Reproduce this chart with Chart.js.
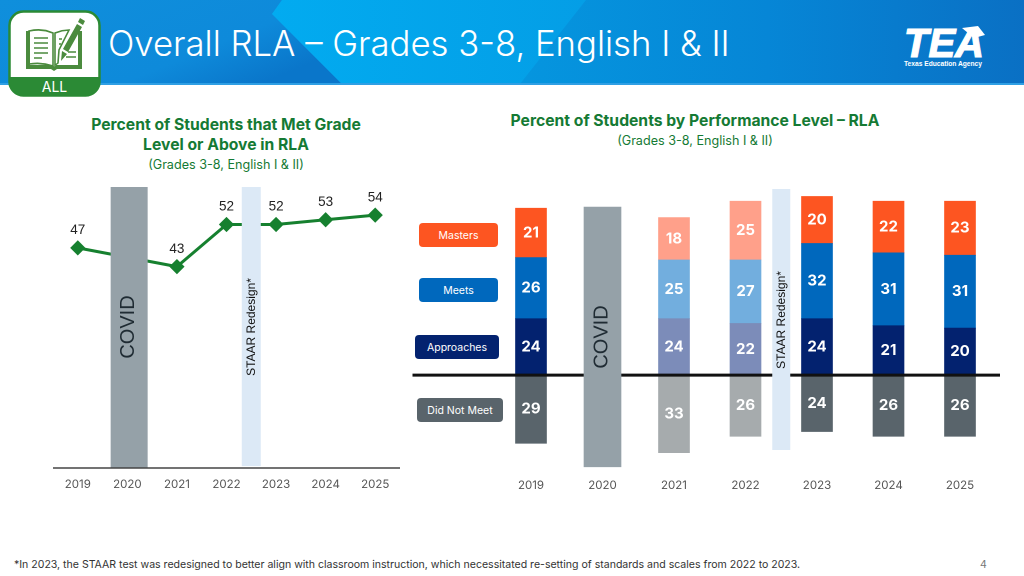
<!DOCTYPE html>
<html lang="en">
<head>
<meta charset="utf-8">
<title>Overall RLA</title>
<script src="https://cdn.jsdelivr.net/npm/chart.js@4"></script>
<style>
  html, body { margin: 0; padding: 0; background: #fff; }
  body { position: relative; width: 1024px; height: 576px; overflow: hidden; font-family: Inter, sans-serif; }
  .header { position: absolute; left: 0; top: 0; width: 1024px; height: 85px; }
  .page-title { position: absolute; left: 108px; top: 21px; color: #fff; font-size: 34.7px; line-height: 44px; font-weight: 300; white-space: nowrap; }
  .icon { position: absolute; left: 8px; top: 10px; width: 93px; height: 87px; }
  .icon-label { position: absolute; left: 8px; top: 79px; width: 93px; text-align: center; color: #fff; font-size: 14px; line-height: 16px; }
  .logo { position: absolute; left: 900px; top: 23px; width: 92px; height: 47px; }
  .heading { position: absolute; color: #157a34; text-align: center; white-space: nowrap; }
  .heading b { display: block; font-size: 15.7px; line-height: 20px; font-weight: 700; }
  .heading span { display: block; font-size: 12.6px; line-height: 20px; }
  canvas { position: absolute; }
  .chip { position: absolute; height: 24px; line-height: 25px; border-radius: 4px; color: #fff; font-size: 10.5px; text-align: center; }
  .footnote { position: absolute; left: 14px; top: 558px; font-size: 10.55px; line-height: 14px; color: #333; white-space: nowrap; }
  .page-num { position: absolute; left: 980px; top: 558px; font-size: 10.5px; line-height: 14px; color: #777; }
</style>
</head>
<body>
<svg class="header" viewBox="0 0 1024 85">
  <defs>
    <linearGradient id="hdr" x1="0" x2="1" y1="0" y2="0">
      <stop offset="0.5" stop-color="#0596df"/>
      <stop offset="0.75" stop-color="#0686d6"/>
      <stop offset="1" stop-color="#0a70c4"/>
    </linearGradient>
    <linearGradient id="hdrLeft" x1="0" x2="1" y1="0" y2="0.6">
      <stop offset="0" stop-color="#0f8fdc"/>
      <stop offset="0.7" stop-color="#0e8ada"/>
      <stop offset="1" stop-color="#0a76ca"/>
    </linearGradient>
    <linearGradient id="hdrMid" x1="0" x2="1" y1="0" y2="0">
      <stop offset="0" stop-color="#02abf0"/>
      <stop offset="1" stop-color="#049ee6"/>
    </linearGradient>
  </defs>
  <rect width="1024" height="85" fill="url(#hdr)"/>
  <polygon points="0,0 282,0 272,14 342,84 0,84" fill="url(#hdrLeft)"/>
  <polygon points="282,0 586,0 520,84 342,84 272,14" fill="url(#hdrMid)"/>
  <rect y="83" width="1024" height="2" fill="#2f9fe4"/>
</svg>
<div class="page-title">Overall RLA – Grades 3-8, English I &amp; II</div>

<svg class="icon" viewBox="0 0 93 87">
  <rect x="1.5" y="1.5" width="90" height="84" rx="14" fill="#fff" stroke="#2b8a35" stroke-width="2.5"/>
  <path d="M1.5 67 H91.5 V71.5 a14 14 0 0 1 -14 14 H15.5 a14 14 0 0 1 -14 -14 Z" fill="#2b8a35"/>
  <path d="M18 21 v38 h25 l3 2 l3 -2 h25 v-38 h-4 v34 h-22 l-2 1.5 l-2 -1.5 h-22 v-34 Z" fill="#4b8b3e"/>
  <path d="M21 21 q13 -3 24 2 v33 q-11 -4 -24 -2 Z M47 23 q7 -3 14 -3 l-10 20 l-1 13 q-1 1 -3 2 Z" fill="none" stroke="#4b8b3e" stroke-width="1.6"/>
  <path d="M26 28 h14 M26 33 h14 M26 38 h14 M26 43 h14 M26 48 h8" stroke="#4b8b3e" stroke-width="1.6"/>
  <path d="M51 29 h3 M51 34 h2 M60 42 h8 M58 47 h10" stroke="#4b8b3e" stroke-width="1.4"/>
  <path d="M72 8 l5 3 l-2 4 l-5 -3 Z M69 14 l5 3 l-14 25 l-5 -3 Z M54 41 l5 3 l-6 7 Z" fill="#4b8b3e"/>
</svg>
<div class="icon-label">ALL</div>

<svg class="logo" viewBox="0 0 92 47">
  <text x="4" y="34" fill="#fff" stroke="#fff" stroke-width="1.2" font-family="Liberation Sans" font-weight="700" font-style="italic" font-size="40" textLength="80" lengthAdjust="spacingAndGlyphs">TEA</text>
  <polygon points="62,5 78,3 85,12 74,15" fill="#fff"/>
  <text x="4" y="43" fill="#fff" font-family="Liberation Sans" font-weight="700" font-size="7" textLength="78" lengthAdjust="spacingAndGlyphs">Texas Education Agency</text>
</svg>

<div class="heading" style="left:26px;width:400px;top:115px"><b>Percent of Students that Met Grade</b><b>Level or Above in RLA</b><span>(Grades 3-8, English I &amp; II)</span></div>
<div class="heading" style="left:495px;width:400px;top:111px"><b>Percent of Students by Performance Level – RLA</b><span>(Grades 3-8, English I &amp; II)</span></div>

<canvas id="lineChart" style="left:53px;top:180px;width:347px;height:320px"></canvas>
<canvas id="barChart" style="left:404px;top:180px;width:600px;height:320px"></canvas>

<div class="chip" style="left:419px;top:223px;width:79px;background:#fd5521">Masters</div>
<div class="chip" style="left:419px;top:278px;width:79px;background:#0068bd">Meets</div>
<div class="chip" style="left:415px;top:335px;width:84px;background:#03226f">Approaches</div>
<div class="chip" style="left:417px;top:398px;width:86px;background:#59646b">Did Not Meet</div>

<div class="footnote">*In 2023, the STAAR test was redesigned to better align with classroom instruction, which necessitated re-setting of standards and scales from 2022 to 2023.</div>
<div class="page-num">4</div>

<script>
// ═══════════════════════════════════════
//  DATA
// ═══════════════════════════════════════
const years = ["2019", "2020", "2021", "2022", "2023", "2024", "2025"];

// Left chart
const metOrAbove = [47, null, 43, 52, 52, 53, 54];

// Right chart (Did Not Meet sits below the zero line)
const didNotMeet = [-29, null, -33, -26, -24, -26, -26];
const approaches = [24, null, 24, 22, 24, 21, 20];
const meets = [26, null, 25, 27, 32, 31, 31];
const masters = [21, null, 18, 25, 20, 22, 23];
const barBand = [null, [-39, 71.5], null, null, null, null, null];

// Years drawn faded in the right chart
const fadedYears = ["2021", "2022"];

const GREEN = "#16802f";
const BAND_GREY = "#95a1a8";
const BAND_BLUE = "#dce9f6";
const FONT = "Inter, sans-serif";

Chart.defaults.font.family = FONT;
Chart.defaults.animation = false;
Chart.defaults.devicePixelRatio = 2;

// ═══════════════════════════════════════
//  HELPERS
// ═══════════════════════════════════════
function shade(full, faded) {
  return years.map((y) => (fadedYears.includes(y) ? faded : full));
}

// Fixed height for the year axis so the plot area lands where it should
function fixAxisHeight(px) {
  return (scale) => { scale.height = px; };
}

function xTicks(padding) {
  return { color: "#555", font: { size: 11.5 }, padding, maxRotation: 0, autoSkip: false };
}

function verticalText(ctx, text, x, y, font, color) {
  ctx.save();
  ctx.translate(x, y);
  ctx.rotate(-Math.PI / 2);
  ctx.font = font;
  ctx.fillStyle = color;
  ctx.textAlign = "center";
  ctx.textBaseline = "middle";
  ctx.fillText(text, 0, 0);
  ctx.restore();
}

// STAAR band sits halfway between 2022 and 2023
function drawStaarBand(chart, width, top, bottom, textY) {
  const ctx = chart.ctx;
  const x = (chart.scales.x.getPixelForValue(3) + chart.scales.x.getPixelForValue(4)) / 2;
  ctx.fillStyle = BAND_BLUE;
  ctx.fillRect(x - width / 2, top, width, bottom - top);
  verticalText(ctx, "STAAR Redesign*", x + 0.5, textY, `12px "Liberation Sans"`, "#111");
}

// ═══════════════════════════════════════
//  LEFT CHART — line
// ═══════════════════════════════════════
const linePlugin = {
  id: "lineExtras",
  afterDatasetsDraw(chart) {
    const ctx = chart.ctx;
    const { x, y } = chart.scales;

    // COVID band covers the line at 2020, a touch right of the tick like the slide
    const covidX = x.getPixelForValue(1) + 1.8;
    ctx.fillStyle = BAND_GREY;
    ctx.fillRect(covidX - 18.5, y.getPixelForValue(60), 37, y.getPixelForValue(0) - y.getPixelForValue(60));
    verticalText(ctx, "COVID", covidX - 0.5, 147, `20px "Liberation Sans"`, "#1f2b33");

    drawStaarBand(chart, 19, y.getPixelForValue(60), y.getPixelForValue(0.4), 147);

    ctx.fillStyle = "#222";
    ctx.font = `13.5px "Liberation Sans"`;
    ctx.textAlign = "center";
    ctx.textBaseline = "middle";
    metOrAbove.forEach((v, i) => {
      if (v === null) return;
      ctx.fillText(v, x.getPixelForValue(i), y.getPixelForValue(v) - 17.5);
    });

    ctx.strokeStyle = "#444";
    ctx.lineWidth = 1.5;
    ctx.beginPath();
    ctx.moveTo(chart.chartArea.left, y.getPixelForValue(0));
    ctx.lineTo(chart.chartArea.right, y.getPixelForValue(0));
    ctx.stroke();
  },
};

new Chart(document.getElementById("lineChart"), {
  type: "line",
  data: {
    labels: years,
    datasets: [
      {
        data: metOrAbove,
        spanGaps: true,
        borderColor: GREEN,
        borderWidth: 3,
        pointStyle: "rectRot",
        pointRadius: 5.5,
        pointBackgroundColor: GREEN,
        pointBorderColor: GREEN,
      },
    ],
  },
  options: {
    responsive: false,
    layout: { autoPadding: false, padding: { top: 7 } },
    plugins: { legend: { display: false }, tooltip: { enabled: false } },
    scales: {
      y: { display: false, min: 0, max: 60 },
      x: {
        offset: true,
        grid: { display: false },
        border: { display: false },
        ticks: xTicks(1.5),
        afterFit: fixAxisHeight(32),
      },
    },
  },
  plugins: [linePlugin],
});

// ═══════════════════════════════════════
//  RIGHT CHART — stacked performance levels
// ═══════════════════════════════════════
const barSeries = [
  { data: didNotMeet, bg: shade("#59646b", "#a6abad") },
  { data: approaches, bg: shade("#03226f", "#7c8cb9") },
  { data: meets, bg: shade("#0068bd", "#72aede") },
  { data: masters, bg: shade("#fd5521", "#ffa08a") },
];
const COVID_INDEX = barSeries.length;

const barPlugin = {
  id: "barExtras",
  // Zero line goes over the coloured bars but under the COVID band
  beforeDatasetDraw(chart, args) {
    if (args.index !== COVID_INDEX) return;
    const ctx = chart.ctx;
    const zero = chart.scales.y.getPixelForValue(0);
    ctx.strokeStyle = "#111";
    ctx.lineWidth = 3;
    ctx.beginPath();
    ctx.moveTo(8.5, zero);
    ctx.lineTo(596, zero);
    ctx.stroke();
  },
  afterDatasetsDraw(chart) {
    const ctx = chart.ctx;
    const { x } = chart.scales;
    drawStaarBand(chart, 18, 9, 270, 140);
    verticalText(ctx, "COVID", x.getPixelForValue(1) - 0.3, 157, `20px "Liberation Sans"`, "#1f2b33");

    ctx.fillStyle = "#fff";
    ctx.font = `700 15px ${FONT}`;
    ctx.textAlign = "center";
    ctx.textBaseline = "middle";
    barSeries.forEach((s, d) => {
      chart.getDatasetMeta(d).data.forEach((bar, i) => {
        if (s.data[i] === null) return;
        ctx.fillText(Math.abs(s.data[i]), bar.x, (bar.y + bar.base) / 2);
      });
    });
  },
};

new Chart(document.getElementById("barChart"), {
  type: "bar",
  data: {
    labels: years,
    datasets: [
      ...barSeries.map((s) => ({
        data: s.data,
        backgroundColor: s.bg,
        barThickness: 31,
        order: 1,
      })),
      { data: barBand, backgroundColor: BAND_GREY, barThickness: 37, order: 0 },
    ],
  },
  options: {
    responsive: false,
    layout: { autoPadding: false, padding: { top: 0, left: 91.25, right: 8.25 } },
    plugins: { legend: { display: false }, tooltip: { enabled: false } },
    scales: {
      y: { display: false, stacked: true, min: -39.5, max: 83 },
      x: {
        stacked: true,
        grid: { display: false },
        border: { display: false },
        ticks: xTicks(2.5),
        afterFit: fixAxisHeight(32),
      },
    },
  },
  plugins: [barPlugin],
});
</script>
</body>
</html>
